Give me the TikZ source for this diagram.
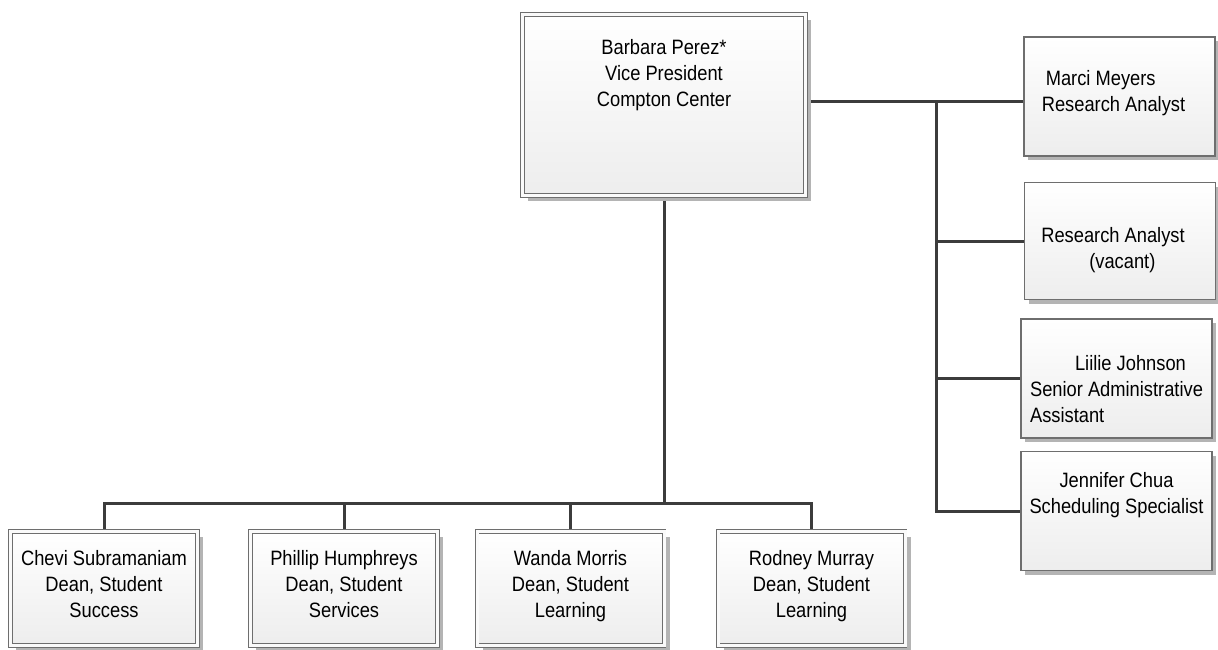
\documentclass[tikz,border=0pt]{standalone}
\usepackage{fontspec}
\setmainfont{Liberation Sans}[FakeStretch=0.88]
\usetikzlibrary{positioning,shadows,backgrounds}
\definecolor{boxline}{HTML}{6E6E6E}
\definecolor{connline}{HTML}{3C3C3C}
\definecolor{shadowgray}{HTML}{B4B4B4}

\begin{document}
\begin{tikzpicture}[x=1pt,y=-1pt,
    font=\fontsize{20.8}{26}\selectfont,
    card/.style={draw=boxline,top color=white,bottom color=gray!14,align=center,inner sep=2pt},
    box/.style={card,line width=1.1pt,minimum width=191pt,minimum height=119pt,
      drop shadow={shadow xshift=4pt,shadow yshift=-4pt,fill=shadowgray,opacity=1}},
    dbox/.style={card,double=gray!4,double distance=3pt,line width=0.9pt,
      drop shadow={shadow xshift=5.5pt,shadow yshift=-5.5pt,fill=shadowgray,opacity=1}},
    dean/.style={dbox,minimum width=187pt,minimum height=114pt,text height=67pt,text depth=10pt},
    conn/.style={draw=connline,line width=3pt}]

    \useasboundingbox (0,0) rectangle (1218,650);

    \node[dbox,minimum width=283pt,minimum height=181pt,text height=67pt,text depth=63pt](vp)
      at (664,105){Barbara Perez*\\Vice President\\Compton Center};

    \node[dean](d1) at (104,588.5){Chevi Subramaniam\\Dean, Student\\Success};
    \node[dean](d2) at (344,588.5){Phillip Humphreys\\Dean, Student\\Services};
    \node[dean](d3) at (570.5,588.5){Wanda Morris\\Dean, Student\\Learning};
    \node[dean](d4) at (811.5,588.5){Rodney Murray\\Dean, Student\\Learning};

    \node[box,align=left,text height=41pt,text depth=10pt](mm)
      at (1119.5,96.5){\hspace*{4pt}Marci Meyers\\Research Analyst\hspace*{12pt}};
    \node[box,align=left,minimum height=117pt,text height=64pt,text depth=10pt](vac)
      at (1120,241){Research Analyst\hspace*{14pt}\\\hspace*{48pt}(vacant)};
    \node[box,align=left,text height=97pt,text depth=10pt](ll)
      at (1116.5,378.5){\hspace*{45pt}Liilie Johnson\\Senior Administrative\\Assistant};
    \node[box,text height=41pt,text depth=37pt](jc)
      at (1116.5,511){Jennifer Chua\\Scheduling Specialist};

    \begin{scope}[on background layer]
      \coordinate (hub) at (936,102);
      \coordinate (bus) at (664,503);
      \draw[conn](vp.south)--(bus);
      \draw[conn](d1.north)|-(bus);
      \draw[conn](d4.north)|-(bus);
      \draw[conn](d2.north)--(d2.north|-bus);
      \draw[conn](d3.north)--(d3.north|-bus);
      \draw[conn](vp.east|-hub)--(mm.west|-hub);
      \draw[conn](hub)|-(vac.west);
      \draw[conn](hub)|-(ll.west);
      \draw[conn](hub)|-(jc.west);
    \end{scope}
  \end{tikzpicture}
\end{document}
